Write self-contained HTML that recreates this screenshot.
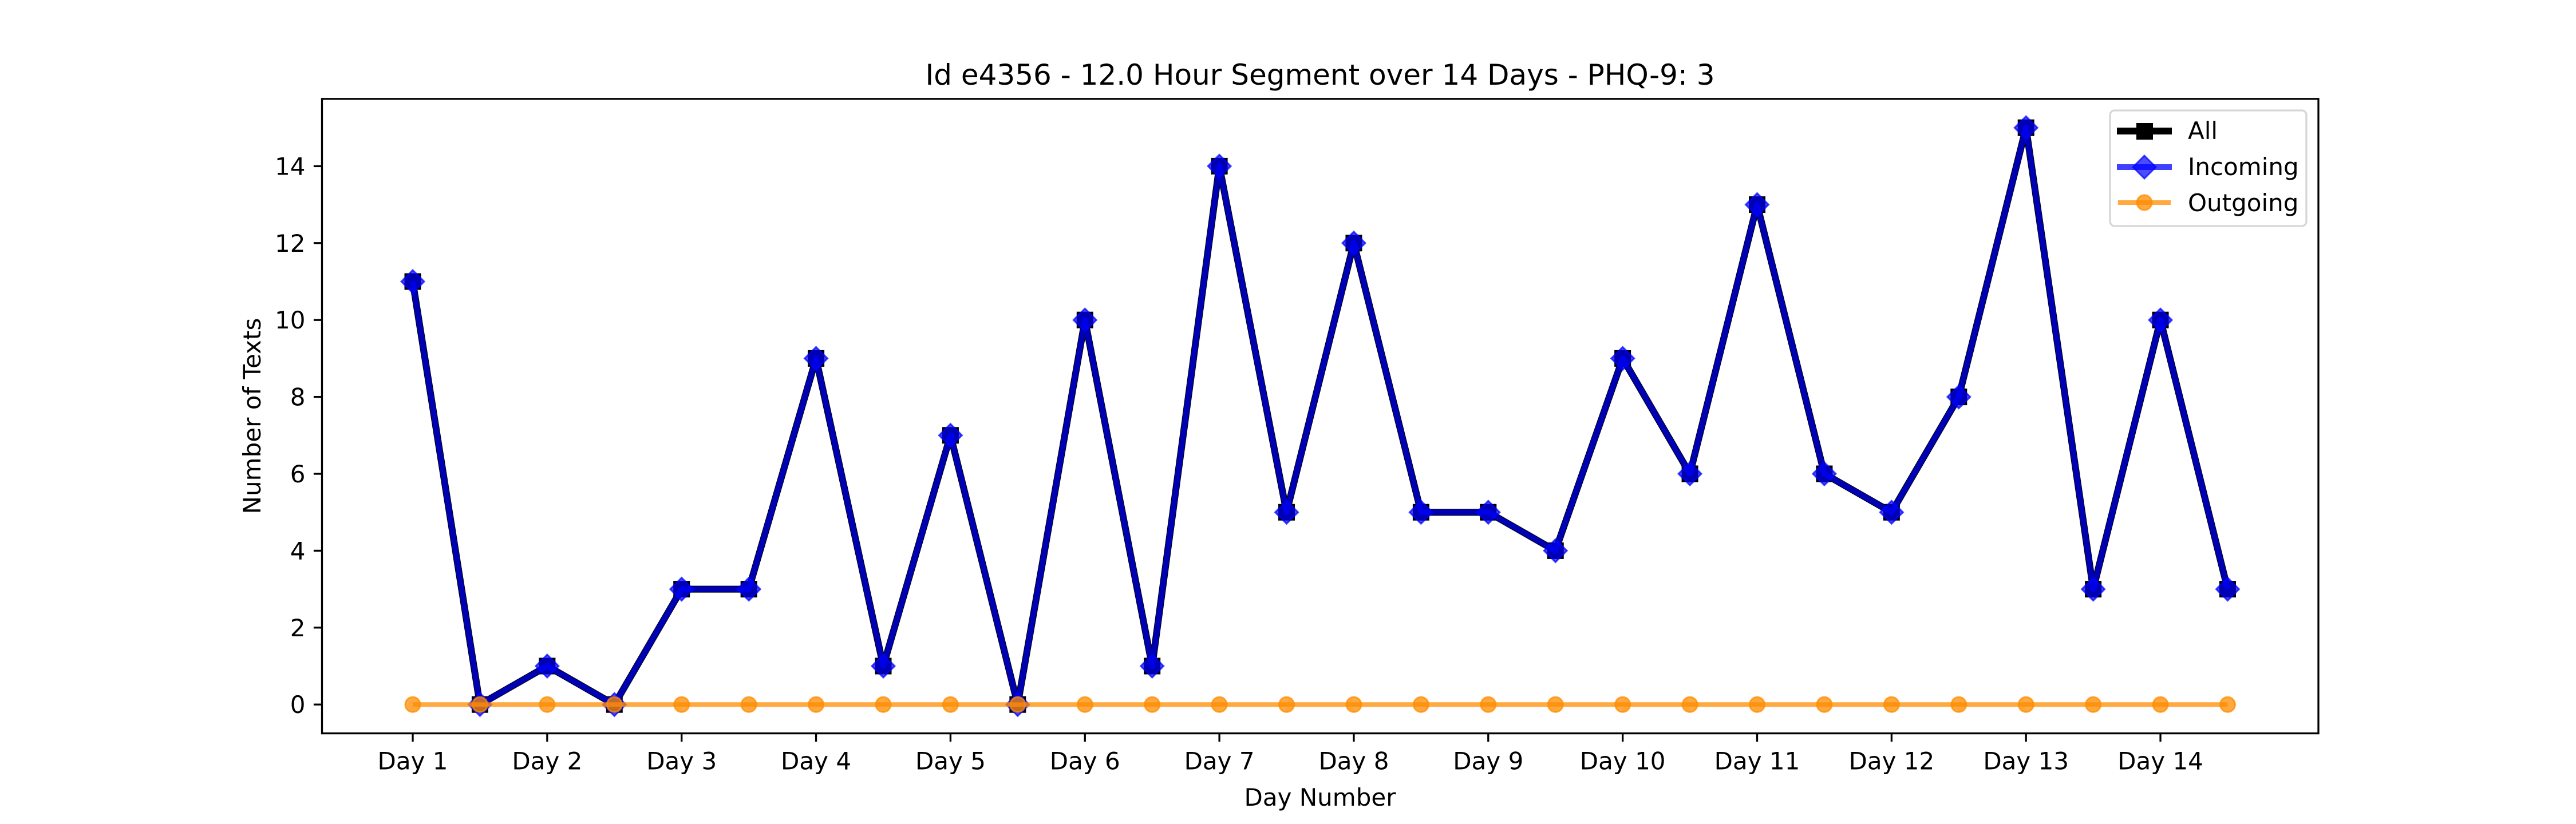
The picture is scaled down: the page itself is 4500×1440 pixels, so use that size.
<!DOCTYPE html>
<html><head><meta charset="utf-8">
<style>
html,body{margin:0;padding:0;background:#fff;}
svg{display:block;font-family:"DejaVu Sans","Liberation Sans",sans-serif;}
</style></head>
<body>
<svg id="chart" width="4500" height="1440" viewBox="0 0 4500 1440" xmlns="http://www.w3.org/2000/svg">
<rect width="4500" height="1440" fill="#fff"/>
<g id="grid"></g>
<g id="series"></g>
<g id="axes"></g>
<text x="2306" y="148" text-anchor="middle" font-size="50">Id e4356 - 12.0 Hour Segment over 14 Days - PHQ-9: 3</text>
<text x="2306" y="1408" text-anchor="middle" font-size="42">Day Number</text>
<text transform="translate(455,727) rotate(-90)" text-anchor="middle" font-size="42">Number of Texts</text>
<g>
<rect x="3686" y="193" width="343" height="202" rx="8" fill="#fff" fill-opacity="0.8" stroke="#d6d6d6" stroke-width="3.3"/>
<g>
<line x1="3698" y1="229" x2="3794" y2="229" stroke="#000" stroke-width="12"/>
<rect x="3732" y="215" width="29" height="29" fill="#000"/>
<text x="3822" y="243" font-size="42">All</text>
</g>
<g>
<line x1="3698" y1="292" x2="3794" y2="292" stroke="#0000ff" stroke-opacity="0.75" stroke-width="10"/>
<polygon points="3746,272 3766,292 3746,312 3726,292" fill="#0000ff" fill-opacity="0.7" stroke="#0000ff" stroke-opacity="0.7" stroke-width="3"/>
<text x="3822" y="306" font-size="42">Incoming</text>
</g>
<g>
<line x1="3700" y1="354" x2="3792" y2="354" stroke="#ff8c00" stroke-opacity="0.75" stroke-width="8"/>
<circle cx="3746" cy="354" r="13" fill="#ff8c00" fill-opacity="0.75" stroke="#ff8c00" stroke-opacity="0.75" stroke-width="3"/>
<text x="3822" y="369" font-size="42">Outgoing</text>
</g>
</g>
</svg>
<script>
const xPositions = [0,0.5,1,1.5,2,2.5,3,3.5,4,4.5,5,5.5,6,6.5,7,7.5,8,8.5,9,9.5,10,10.5,11,11.5,12,12.5,13,13.5];
const allValues = [11,0,1,0,3,3,9,1,7,0,10,1,14,5,12,5,5,4,9,6,13,6,5,8,15,3,10,3];
const incomingValues = [11,0,1,0,3,3,9,1,7,0,10,1,14,5,12,5,5,4,9,6,13,6,5,8,15,3,10,3];
const outgoingValues = [0,0,0,0,0,0,0,0,0,0,0,0,0,0,0,0,0,0,0,0,0,0,0,0,0,0,0,0];
const xTickValues = [0,1,2,3,4,5,6,7,8,9,10,11,12,13];
const xTickLabels = ["Day 1","Day 2","Day 3","Day 4","Day 5","Day 6","Day 7","Day 8","Day 9","Day 10","Day 11","Day 12","Day 13","Day 14"];
const yTickValues = [0,2,4,6,8,10,12,14];

const NS = "http://www.w3.org/2000/svg";
const L = 562.5, R = 4050, T = 172.8, B = 1281.6;
const xMin = -0.675, xMax = 14.175, yMin = -0.75, yMax = 15.75;
function sx(v){ return L + (v - xMin) / (xMax - xMin) * (R - L); }
function sy(v){ return B - (v - yMin) / (yMax - yMin) * (B - T); }
function mk(tag, attrs, parent){
  const e = document.createElementNS(NS, tag);
  for (const k in attrs) e.setAttribute(k, attrs[k]);
  parent.appendChild(e);
  return e;
}
const series = document.getElementById("series");
const axes = document.getElementById("axes");

function pts(vals){ return vals.map((v,i)=>sx(xPositions[i]).toFixed(1)+","+sy(v).toFixed(1)).join(" "); }

// All series
const gAll = mk("g", {}, series);


mk("polyline", {points: pts(allValues), fill: "none", stroke: "#000", "stroke-width": 12, "stroke-linejoin": "round"}, gAll);
allValues.forEach((v,i)=>{
  const r = mk("rect", {x: sx(xPositions[i]) - 14.5, y: sy(v) - 14.5, width: 29, height: 29, fill: "#000"}, gAll);
  
  
});

// Incoming series
const gIn = mk("g", {}, series);


mk("polyline", {points: pts(incomingValues), fill: "none", stroke: "#0000ff", "stroke-opacity": 0.7, "stroke-width": 10, "stroke-linejoin": "round"}, gIn);
incomingValues.forEach((v,i)=>{
  const cx = sx(xPositions[i]), cy = sy(v);
  const p = mk("polygon", {points: `${cx},${cy-20} ${cx+20},${cy} ${cx},${cy+20} ${cx-20},${cy}`, fill: "#0000ff", "fill-opacity": 0.7, stroke: "#0000ff", "stroke-opacity": 0.7, "stroke-width": 3}, gIn);
  
  
});

// Outgoing series
const gOut = mk("g", {}, series);


mk("polyline", {points: pts(outgoingValues), fill: "none", stroke: "#ff8c00", "stroke-opacity": 0.75, "stroke-width": 8}, gOut);
outgoingValues.forEach((v,i)=>{
  const c = mk("circle", {cx: sx(xPositions[i]), cy: sy(v), r: 13, fill: "#ff8c00", "fill-opacity": 0.75, stroke: "#ff8c00", "stroke-opacity": 0.75, "stroke-width": 3}, gOut);
  
  
});

// Axes frame
const frame = mk("rect", {x: L, y: T, width: R - L, height: B - T, fill: "none", stroke: "#000", "stroke-width": 3.3}, axes);



// X ticks
xTickValues.forEach((v,i)=>{
  const x = sx(v);
  mk("line", {x1: x, y1: B, x2: x, y2: B + 14.6, stroke: "#000", "stroke-width": 3.3}, axes);
  const t = mk("text", {x: x, y: B + 63, "text-anchor": "middle", "font-size": 42}, axes);
  t.textContent = xTickLabels[i];
  
  
});
// Y ticks
yTickValues.forEach(v=>{
  const y = sy(v);
  mk("line", {x1: L - 14.6, y1: y, x2: L, y2: y, stroke: "#000", "stroke-width": 3.3}, axes);
  const t = mk("text", {x: L - 29, y: y + 15, "text-anchor": "end", "font-size": 42}, axes);
  t.textContent = String(v);
  
  
});
</script>
</body></html>
